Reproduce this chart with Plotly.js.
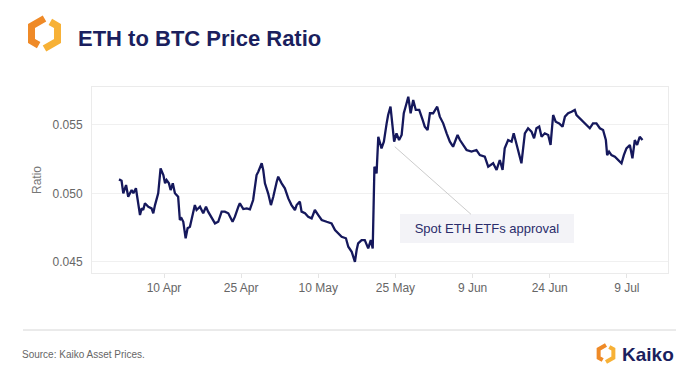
<!DOCTYPE html>
<html>
<head>
<meta charset="utf-8">
<script src="https://cdn.plot.ly/plotly-3.0.1.min.js"></script>
<style>
html,body{margin:0;padding:0;background:#fff;}
#chart{width:694px;height:373px;}
</style>
</head>
<body>
<div id="chart"></div>
<script>
const dates = [
'2024-04-01 06:00','2024-04-01 18:00','2024-04-02 02:00','2024-04-02 15:00','2024-04-03 01:00','2024-04-03 17:00',
'2024-04-04 01:00','2024-04-04 13:00','2024-04-04 19:00','2024-04-05 08:00','2024-04-05 16:00','2024-04-05 23:00',
'2024-04-06 07:00','2024-04-06 23:00','2024-04-07 14:00','2024-04-07 22:00','2024-04-08 06:00','2024-04-08 21:00',
'2024-04-09 08:00','2024-04-09 21:00','2024-04-10 05:00','2024-04-10 12:00','2024-04-10 23:00','2024-04-11 07:00',
'2024-04-11 17:00','2024-04-12 03:00','2024-04-12 18:00','2024-04-13 02:00','2024-04-13 10:00','2024-04-13 18:00',
'2024-04-14 05:00','2024-04-14 14:00','2024-04-15 01:00','2024-04-15 14:00','2024-04-16 00:00','2024-04-16 08:00',
'2024-04-17 00:00','2024-04-17 15:00','2024-04-18 04:00','2024-04-18 14:00','2024-04-19 06:00','2024-04-19 22:00',
'2024-04-20 13:00','2024-04-21 05:00','2024-04-21 20:00','2024-04-22 12:00','2024-04-23 08:00','2024-04-23 19:00',
'2024-04-24 11:00','2024-04-24 18:00','2024-04-25 10:00','2024-04-26 02:00','2024-04-26 17:00','2024-04-27 08:00',
'2024-04-28 00:00','2024-04-28 08:00','2024-04-29 00:00','2024-04-29 07:00','2024-04-29 15:00','2024-04-30 06:00',
'2024-04-30 19:00','2024-05-01 06:00','2024-05-01 22:00','2024-05-02 05:00','2024-05-02 21:00','2024-05-03 12:00',
'2024-05-04 04:00','2024-05-04 19:00','2024-05-05 11:00','2024-05-05 19:00','2024-05-06 10:00','2024-05-06 18:00',
'2024-05-07 10:00','2024-05-08 01:00','2024-05-08 17:00','2024-05-09 08:00','2024-05-10 00:00','2024-05-10 16:00',
'2024-05-11 15:00','2024-05-12 14:00','2024-05-13 06:00','2024-05-13 21:00','2024-05-14 13:00','2024-05-15 09:00',
'2024-05-15 20:00','2024-05-16 12:00','2024-05-17 03:00','2024-05-17 11:00','2024-05-17 18:00','2024-05-18 10:00',
'2024-05-19 01:00','2024-05-19 17:00','2024-05-20 05:00','2024-05-20 14:00','2024-05-20 22:00','2024-05-21 08:00',
'2024-05-21 16:00','2024-05-22 07:00','2024-05-22 18:00','2024-05-23 07:00','2024-05-23 14:00','2024-05-24 01:00',
'2024-05-24 09:00','2024-05-24 18:00','2024-05-25 05:00','2024-05-25 17:00','2024-05-26 05:00','2024-05-26 15:00',
'2024-05-27 04:00','2024-05-27 12:00','2024-05-27 23:00','2024-05-28 11:00','2024-05-28 23:00','2024-05-29 15:00',
'2024-05-30 07:00','2024-05-30 17:00','2024-05-31 06:00','2024-05-31 17:00','2024-06-01 08:00','2024-06-02 03:00',
'2024-06-02 15:00','2024-06-03 07:00','2024-06-03 23:00','2024-06-04 14:00','2024-06-05 05:00','2024-06-06 02:00',
'2024-06-06 13:00','2024-06-07 04:00','2024-06-07 20:00','2024-06-08 19:00','2024-06-09 18:00','2024-06-10 10:00',
'2024-06-11 09:00','2024-06-12 01:00','2024-06-13 00:00','2024-06-13 16:00','2024-06-14 07:00','2024-06-14 20:00',
'2024-06-15 06:00','2024-06-15 22:00','2024-06-16 14:00','2024-06-17 00:00','2024-06-17 13:00','2024-06-18 01:00',
'2024-06-18 12:00','2024-06-19 04:00','2024-06-19 19:00','2024-06-20 11:00','2024-06-20 23:00','2024-06-21 10:00',
'2024-06-21 23:00','2024-06-22 10:00','2024-06-23 01:00','2024-06-23 17:00','2024-06-24 04:00','2024-06-24 16:00',
'2024-06-25 04:00','2024-06-25 20:00','2024-06-26 12:00','2024-06-26 23:00','2024-06-27 14:00','2024-06-28 06:00',
'2024-06-28 21:00','2024-06-29 05:00','2024-06-29 20:00','2024-06-30 12:00','2024-07-01 06:00','2024-07-01 19:00',
'2024-07-02 10:00','2024-07-03 02:00','2024-07-03 18:00','2024-07-04 09:00','2024-07-04 22:00','2024-07-05 04:00',
'2024-07-05 13:00','2024-07-06 00:00','2024-07-06 16:00','2024-07-07 07:00','2024-07-07 23:00','2024-07-08 10:00',
'2024-07-08 22:00','2024-07-09 14:00','2024-07-10 02:00','2024-07-10 13:00','2024-07-11 00:00','2024-07-11 12:00',
'2024-07-12 01:00'
];
const ratio = [
0.05102,0.05092,0.05000,0.05061,0.04975,0.05024,
0.05000,0.05037,0.04975,0.04841,0.04890,0.04878,
0.04927,0.04902,0.04890,0.04854,0.04914,0.05000,
0.05183,0.05134,0.05073,0.05097,0.05073,0.05024,
0.05073,0.05000,0.04975,0.04805,0.04817,0.04792,
0.04671,0.04744,0.04755,0.04854,0.04914,0.04878,
0.04902,0.04854,0.04902,0.04866,0.04817,0.04780,
0.04792,0.04866,0.04866,0.04854,0.04792,0.04829,
0.04902,0.04927,0.04885,0.04890,0.04883,0.04951,
0.05134,0.05158,0.05220,0.05171,0.05073,0.05000,
0.04914,0.04975,0.05085,0.05122,0.05073,0.05037,
0.04963,0.04914,0.04878,0.04914,0.04939,0.04866,
0.04854,0.04829,0.04817,0.04878,0.04841,0.04805,
0.04792,0.04780,0.04731,0.04707,0.04682,0.04671,
0.04609,0.04572,0.04499,0.04585,0.04634,0.04658,
0.04658,0.04597,0.04658,0.04597,0.05195,0.05146,
0.05414,0.05329,0.05378,0.05512,0.05573,0.05634,
0.05512,0.05378,0.05439,0.05390,0.05427,0.05586,
0.05659,0.05707,0.05586,0.05683,0.05610,0.05610,
0.05537,0.05488,0.05463,0.05586,0.05586,0.05634,
0.05561,0.05512,0.05439,0.05378,0.05341,0.05427,
0.05390,0.05354,0.05317,0.05305,0.05317,0.05280,
0.05268,0.05195,0.05220,0.05171,0.05244,0.05171,
0.05329,0.05390,0.05378,0.05439,0.05366,0.05280,
0.05220,0.05439,0.05476,0.05451,0.05403,0.05476,
0.05488,0.05414,0.05439,0.05427,0.05354,0.05573,
0.05524,0.05512,0.05488,0.05561,0.05586,0.05597,
0.05610,0.05573,0.05549,0.05524,0.05500,0.05476,
0.05512,0.05512,0.05476,0.05463,0.05390,0.05280,
0.05305,0.05280,0.05268,0.05244,0.05220,0.05280,
0.05329,0.05354,0.05256,0.05390,0.05354,0.05414,
0.05390
];
const yTicks = [0.045, 0.050, 0.055];
const yTickText = ['0.045', '0.050', '0.055'];
const eventDate = '2024-05-24 21:00';
const eventValue = 0.05341;
const eventLabel = 'Spot ETH ETFs approval';

// layout geometry (pixels)
const W = 694, H = 373;
const M = {l: 92, r: 26, t: 87, b: 100};
const PW = W - M.l - M.r, PH = H - M.t - M.b;
const px = x => (x - M.l) / PW;
const py = y => (H - M.b - y) / PH;

function hexPieces(cx, cy, r) {
  const V = [];
  for (let i = 0; i < 6; i++) {
    const a = (-90 + 60 * i) * Math.PI / 180;
    V.push([cx + r * Math.cos(a), cy + r * Math.sin(a)]);
  }
  const lerp = (A, B, t) => [A[0] + (B[0] - A[0]) * t, A[1] + (B[1] - A[1]) * t];
  const left = [V[0], V[5], V[4], lerp(V[4], V[3], 0.55)];
  const right = [V[3], V[2], V[1], lerp(V[1], V[0], 0.55)];
  const toPath = pts => pts.map((p, i) => (i ? 'L' : 'M') + px(p[0]).toFixed(5) + ',' + py(p[1]).toFixed(5)).join(' ');
  return [toPath(left), toPath(right)];
}

const big = hexPieces(44.5, 33.5, 15);
const small = hexPieces(606, 353.5, 8.5);
const ORANGE = '#EF8A27', YELLOW = '#F7B136';

const shapes = [
  {type: 'path', xref: 'paper', yref: 'paper', path: big[0], line: {color: ORANGE, width: 7}},
  {type: 'path', xref: 'paper', yref: 'paper', path: big[1], line: {color: YELLOW, width: 7}},
  {type: 'path', xref: 'paper', yref: 'paper', path: small[0], line: {color: ORANGE, width: 4}},
  {type: 'path', xref: 'paper', yref: 'paper', path: small[1], line: {color: YELLOW, width: 4}},
  {type: 'line', xref: 'paper', yref: 'paper', x0: px(23), x1: px(676), y0: py(330), y1: py(330), line: {color: '#d6d6d6', width: 1}}
];

const FONT = 'Liberation Sans, Arial, Helvetica, sans-serif';

const trace = {
  x: dates, y: ratio, type: 'scatter', mode: 'lines',
  line: {color: '#15185c', width: 2.3}, hoverinfo: 'skip'
};

const layout = {
  width: W, height: H,
  margin: M,
  paper_bgcolor: '#ffffff', plot_bgcolor: '#ffffff',
  showlegend: false,
  font: {family: FONT, color: '#666666', size: 12},
  title: {
    text: '<b>ETH to BTC Price Ratio</b>',
    font: {family: FONT, size: 22, color: '#1b1f5e'},
    xref: 'container', yref: 'container',
    x: 78 / W, xanchor: 'left', y: 1 - 38.5 / H, yanchor: 'middle'
  },
  xaxis: {
    type: 'date',
    range: ['2024-03-27', '2024-07-17'],
    tick0: '2024-04-10', dtick: 15 * 86400000,
    tickformat: '%-d %b',
    ticks: 'outside', ticklen: 4, tickcolor: '#e4e4e4',
    showgrid: false, zeroline: false,
    showline: true, linecolor: '#ebebeb', linewidth: 1, mirror: true,
    tickfont: {family: FONT, size: 12, color: '#666666'}
  },
  yaxis: {
    range: [0.04417, 0.05778],
    tickvals: yTicks, ticktext: yTickText,
    ticks: 'outside', ticklen: 6, tickcolor: 'rgba(0,0,0,0)',
    showgrid: true, gridcolor: '#f0f0f0', gridwidth: 1, zeroline: false,
    showline: true, linecolor: '#ebebeb', linewidth: 1, mirror: true,
    tickfont: {family: FONT, size: 12, color: '#666666'},
    title: {text: 'Ratio', font: {family: FONT, size: 12, color: '#777777'}, standoff: 8}
  },
  shapes: shapes,
  annotations: [
    {
      x: eventDate, y: eventValue, xref: 'x', yref: 'y',
      text: eventLabel, showarrow: true, arrowhead: 0, arrowwidth: 1, arrowcolor: '#cccccc',
      ax: 92.5, ay: 82, axref: 'pixel', ayref: 'pixel',
      bgcolor: '#f3f3f7', borderpad: 0, borderwidth: 0, width: 174, height: 29,
      font: {family: FONT, size: 13, color: '#2b2d6b'}
    },
    {
      xref: 'paper', yref: 'paper', x: px(20), y: py(354), xanchor: 'left', yanchor: 'middle',
      text: 'Source: Kaiko Asset Prices.', showarrow: false,
      font: {family: FONT, size: 10, color: '#666666'}
    },
    {
      xref: 'paper', yref: 'paper', x: px(620), y: py(354), xanchor: 'left', yanchor: 'middle',
      text: '<b>Kaiko</b>', showarrow: false,
      font: {family: FONT, size: 19, color: '#1b1f5e'}
    }
  ]
};

Plotly.newPlot('chart', [trace], layout, {displayModeBar: false, staticPlot: true});
</script>
</body>
</html>
